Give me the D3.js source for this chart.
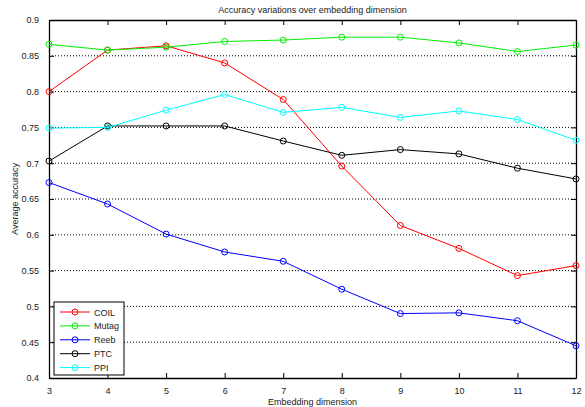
<!DOCTYPE html>
<html>
<head>
<meta charset="utf-8">
<script src="https://cdn.jsdelivr.net/npm/d3@7"></script>
<style>
  body { margin: 0; background: #fff; }
  text { font-family: "Liberation Sans", Arial, sans-serif; }
</style>
</head>
<body>
<svg id="chart" width="585" height="407"></svg>
<script>
// data
let dims = [3, 4, 5, 6, 7, 8, 9, 10, 11, 12]
let coil  = [0.800, 0.858, 0.864, 0.840, 0.789, 0.696, 0.613, 0.581, 0.543, 0.557]
let mutag = [0.866, 0.858, 0.862, 0.870, 0.872, 0.876, 0.876, 0.868, 0.856, 0.865]
let reeb  = [0.673, 0.643, 0.601, 0.576, 0.563, 0.524, 0.490, 0.491, 0.480, 0.445]
let ptc   = [0.703, 0.752, 0.752, 0.752, 0.731, 0.711, 0.719, 0.713, 0.693, 0.678]
let ppi   = [0.749, 0.750, 0.774, 0.796, 0.771, 0.778, 0.764, 0.773, 0.761, 0.732]
let yTicks = [0.4, 0.45, 0.5, 0.55, 0.6, 0.65, 0.7, 0.75, 0.8, 0.85, 0.9]

let series = [
  { name: 'COIL', values: coil, color: '#ff0000' },
  { name: 'Mutag', values: mutag, color: '#00ee00' },
  { name: 'Reeb', values: reeb, color: '#0000ff' },
  { name: 'PTC', values: ptc, color: '#000000' },
  { name: 'PPI', values: ppi, color: '#00ffff' }
]

let margin = { top: 20, right: 9, bottom: 29, left: 49 }
let width = 585 - margin.left - margin.right
let height = 407 - margin.top - margin.bottom

let svg = d3.select('#chart')
let g = svg.append('g')
    .attr('transform', 'translate(' + margin.left + ',' + margin.top + ')')

let x = d3.scaleLinear().domain([3, 12]).range([0, width])
let y = d3.scaleLinear().domain([0.4, 0.9]).range([height, 0])

// dotted grid
g.append('g').selectAll('line')
    .data(yTicks.slice(1, -1))
    .enter().append('line')
    .attr('x1', 0).attr('x2', width)
    .attr('y1', d => y(d)).attr('y2', d => y(d))
    .attr('stroke', '#000')
    .attr('stroke-width', 1)
    .attr('stroke-dasharray', '1,2')

// axes, ticks pointing inward
let fmt = d => String(+d.toFixed(2))
g.append('g').attr('class', 'axis x')
    .attr('transform', 'translate(0,' + height + ')')
    .call(d3.axisBottom(x).tickValues(dims).tickSizeInner(-5).tickSizeOuter(0).tickPadding(10).tickFormat(d3.format('d')))
g.append('g').attr('class', 'axis xt')
    .call(d3.axisTop(x).tickValues(dims).tickSizeInner(-5).tickSizeOuter(0).tickFormat(''))
g.append('g').attr('class', 'axis y')
    .call(d3.axisLeft(y).tickValues(yTicks).tickSizeInner(-5).tickSizeOuter(0).tickPadding(10).tickFormat(fmt))
g.append('g').attr('class', 'axis yr')
    .attr('transform', 'translate(' + width + ',0)')
    .call(d3.axisRight(y).tickValues(yTicks).tickSizeInner(-5).tickSizeOuter(0).tickFormat(''))

g.selectAll('.axis path').attr('stroke', '#000').attr('stroke-width', 1.3)
g.selectAll('.axis line').attr('stroke', '#000')
g.selectAll('.axis text').attr('font-size', 9).attr('fill', '#222')
    .attr('font-family', '"Liberation Sans", Arial, sans-serif')

// lines and markers
let line = d3.line().x((d, i) => x(dims[i])).y(d => y(d))

series.forEach(function (s) {
  g.append('path')
      .datum(s.values)
      .attr('d', line)
      .attr('fill', 'none')
      .attr('stroke', s.color)
      .attr('stroke-width', 1)
  g.selectAll('.pt-' + s.name)
      .data(s.values)
      .enter().append('circle')
      .attr('cx', (d, i) => x(dims[i]))
      .attr('cy', d => y(d))
      .attr('r', 3)
      .attr('fill', 'none')
      .attr('stroke', s.color)
      .attr('stroke-width', 1)
})

// titles
svg.append('text')
    .attr('x', margin.left + width / 2)
    .attr('y', 13)
    .attr('text-anchor', 'middle')
    .attr('font-size', 9)
    .attr('fill', '#222')
    .text('Accuracy variations over embedding dimension')

svg.append('text')
    .attr('x', margin.left + width / 2)
    .attr('y', 405)
    .attr('text-anchor', 'middle')
    .attr('font-size', 9)
    .attr('fill', '#222')
    .text('Embedding dimension')

svg.append('text')
    .attr('transform', 'translate(18,' + (margin.top + height / 2) + ') rotate(-90)')
    .attr('text-anchor', 'middle')
    .attr('font-size', 9)
    .attr('fill', '#222')
    .text('Average accuracy')

// legend
let legend = svg.append('g').attr('transform', 'translate(54,302)')
legend.append('rect')
    .attr('width', 70).attr('height', 73)
    .attr('fill', '#fff').attr('stroke', '#000').attr('stroke-width', 1)

let item = legend.selectAll('.item')
    .data(series)
    .enter().append('g')
    .attr('transform', (d, i) => 'translate(0,' + (10 + i * 13.9) + ')')
item.append('line')
    .attr('x1', 6).attr('x2', 36)
    .attr('stroke', d => d.color).attr('stroke-width', 1)
item.append('circle')
    .attr('cx', 21).attr('r', 3)
    .attr('fill', 'none').attr('stroke', d => d.color)
item.append('text')
    .attr('x', 40).attr('y', 3.5)
    .attr('font-size', 9)
    .attr('fill', '#222')
    .text(d => d.name)
</script>
</body>
</html>
